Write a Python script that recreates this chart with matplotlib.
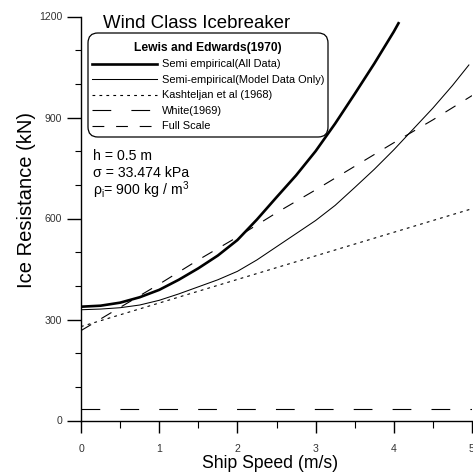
import matplotlib
matplotlib.use("Agg")
import matplotlib.pyplot as plt
from matplotlib.ticker import MultipleLocator
from matplotlib.patches import FancyBboxPatch

plt.rcParams['font.family'] = ['Liberation Sans', 'DejaVu Sans']
plt.rcParams['mathtext.fontset'] = 'custom'
plt.rcParams['mathtext.rm'] = 'Liberation Sans'
plt.rcParams['mathtext.it'] = 'Liberation Sans:italic'
plt.rcParams['lines.scale_dashes'] = False

# ---- data ----
speed_all = [0, 0.25, 0.5, 0.75, 1.0, 1.25, 1.5, 1.75, 2.0, 2.25, 2.5, 2.75,
             3.0, 3.25, 3.5, 3.75, 4.0, 4.06]
res_all = [338, 341, 350, 366, 388, 418, 452, 490, 536, 597, 663, 728,
           800, 882, 970, 1060, 1155, 1180]

speed_model = [0, 0.25, 0.5, 0.75, 1.0, 1.25, 1.5, 1.75, 2.0, 2.25, 2.5, 2.75,
               3.0, 3.25, 3.5, 3.75, 4.0, 4.25, 4.5, 4.75, 4.96]
res_model = [329, 331, 335, 343, 357, 376, 397, 418, 443, 477, 516, 555,
             594, 639, 692, 746, 804, 866, 928, 995, 1056]

speed_kash = [0, 0.5, 1.0, 1.5, 2.0, 2.5, 3.0, 3.5, 4.0, 4.5, 5.0]
res_kash = [279, 314, 349, 384, 419, 454, 489, 524, 559, 594, 629]

speed_white = [0, 5.0]
res_white = [33, 33]

speed_full = [0, 0.5, 1.0, 1.5, 2.0, 2.5, 3.0, 3.5, 4.0, 4.5, 5.0]
res_full = [267, 336, 405, 477, 545, 617, 685, 755, 825, 893, 965]

labels = ["Semi empirical(All Data)", "Semi-empirical(Model Data Only)",
          "Kashteljan et al (1968)", "White(1969)", "Full Scale"]

x_ticks = [0, 1, 2, 3, 4, 5]
y_ticks = [0, 300, 600, 900, 1200]

# ---- figure ----
W, H = 473, 474
fig = plt.figure(figsize=(W / 100, H / 100), dpi=100)
left, right, top, bottom = 81, 472, 16.5, 420.5
ax = fig.add_axes([left / W, 1 - bottom / H, (right - left) / W, (bottom - top) / H])

ax.plot(speed_all, res_all, color='black', lw=1.9, label=labels[0])
ax.plot(speed_model, res_model, color='black', lw=0.75, label=labels[1])
ax.plot(speed_kash, res_kash, color='black', lw=0.8, dashes=(2.0, 3.0), label=labels[2])
ax.plot(speed_white, res_white, color='black', lw=0.8, dashes=(13.5, 14.5), label=labels[3])
ax.plot(speed_full, res_full, color='black', lw=0.8, dashes=(8.5, 8.5), label=labels[4])

ax.set_xlim(0, 5)
ax.set_ylim(0, 1200)
ax.set_xticks(x_ticks)
ax.set_yticks(y_ticks)
ax.xaxis.set_minor_locator(MultipleLocator(0.5))
ax.yaxis.set_minor_locator(MultipleLocator(100))
ax.tick_params(axis='x', which='major', length=8.6, width=1.0, direction='out',
               labelsize=7.6, labelcolor='#333333', pad=8)
ax.tick_params(axis='y', which='major', length=10, width=1.0, direction='out',
               labelsize=7.6, labelcolor='#333333', pad=3.6)
ax.tick_params(axis='x', which='minor', length=5, width=0.8, direction='out')
ax.tick_params(axis='y', which='minor', length=4.3, width=0.8, direction='out')
for s in ['top', 'right']:
    ax.spines[s].set_visible(False)
for s in ['left', 'bottom']:
    ax.spines[s].set_linewidth(1.0)

ax.set_xlabel("Ship Speed (m/s)", fontsize=12.7)
ax.set_ylabel("Ice Resistance (kN)", fontsize=14.5)
ax.xaxis.set_label_coords((270 - left) / (right - left), -(455 - bottom) / (bottom - top))
ax.yaxis.set_label_coords((36 - left) / (right - left), 1 - (200 - top) / (bottom - top))

ax.text(0.056, 0.9715, "Wind Class Icebreaker", transform=ax.transAxes,
        fontsize=13.4, ha='left', va='baseline')

# legend box (rounded frame)
bx0, bx1, by0, by1 = 88, 328, 33, 137
box = FancyBboxPatch(((bx0 - left) / (right - left), 1 - (by1 - top) / (bottom - top)),
                     (bx1 - bx0) / (right - left), (by1 - by0) / (bottom - top),
                     boxstyle='round,pad=0,rounding_size=0.025', transform=ax.transAxes,
                     facecolor='white', edgecolor='black', linewidth=0.9, zorder=4)
ax.add_patch(box)

leg = ax.legend(loc='upper left',
                bbox_to_anchor=((92 - left) / (right - left), 1 - (42 - top) / (bottom - top)),
                borderaxespad=0, borderpad=0,
                fontsize=7.9, title="Lewis and Edwards(1970)",
                title_fontproperties={'weight': 'bold', 'size': 8.7},
                handlelength=5.92, handletextpad=0.46, labelspacing=0.5,
                frameon=False)
leg.set_zorder(5)

ax.text(0.031, 0.644, "h = 0.5 m", transform=ax.transAxes, fontsize=10.2, va='baseline')
ax.text(0.031, 0.602, "σ = 33.474 kPa", transform=ax.transAxes, fontsize=10.2, va='baseline')
ax.text(0.031, 0.558, "ρ$_\\mathrm{i}$= 900 kg / m$^3$", transform=ax.transAxes,
        fontsize=10.2, va='baseline')

fig.savefig("out.png", dpi=100)
